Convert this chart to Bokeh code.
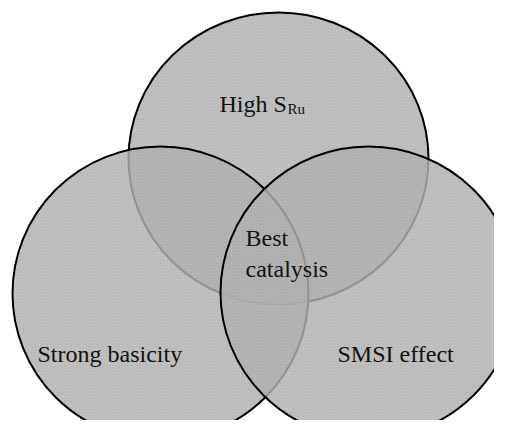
from bokeh.plotting import figure
from bokeh.models import Range1d
from bokeh.core.properties import value
from bokeh.embed import file_html
from bokeh.resources import INLINE

# Sets (drawn in this order: top, left, right)
set_names = ["High S", "Strong basicity", "SMSI effect"]
set_subscripts = ["Ru", "", ""]
center_label = ["Best", "catalysis"]

# Layout (pixel-like data coordinates)
cx = [278, 160, 368]
cy = [158, 293, 292]
w = [300, 296, 296]
h = [292, 294, 292]

label_x = [219, 37, 337]
label_y = [103, 353, 353]

p = figure(width=494, height=420, output_backend="svg", toolbar_location=None,
           x_range=Range1d(0, 494), y_range=Range1d(420, 0), min_border=0)
p.axis.visible = False
p.grid.visible = False
p.outline_line_color = None
p.background_fill_color = "white"
p.border_fill_color = "white"

for i in range(3):
    p.ellipse(x=[cx[i]], y=[cy[i]], width=[w[i]], height=[h[i]],
              fill_color="#b2b2b2", fill_alpha=0.82,
              line_color="black", line_width=2,
              hatch_pattern="dot", hatch_scale=3, hatch_color="#8c8c8c",
              hatch_alpha=0.3, hatch_weight=1)

font = value("Liberation Serif")
for i in range(3):
    p.text(x=[label_x[i]], y=[label_y[i]], text=[set_names[i]], text_font=font,
           text_font_size="24px", text_color="#111111", text_baseline="alphabetic",
           text_align="left")

# subscript for High S_Ru
p.text(x=[label_x[0] + 68], y=[label_y[0] + 5], text=[set_subscripts[0]], text_font=font,
       text_font_size="15px", text_color="#111111", text_baseline="alphabetic", text_align="left")

p.text(x=[245, 245], y=[237, 268], text=center_label, text_font=font,
       text_font_size="24px", text_color="#111111", text_baseline="alphabetic", text_align="left")

open("out.html", "w").write(file_html(p, INLINE))
